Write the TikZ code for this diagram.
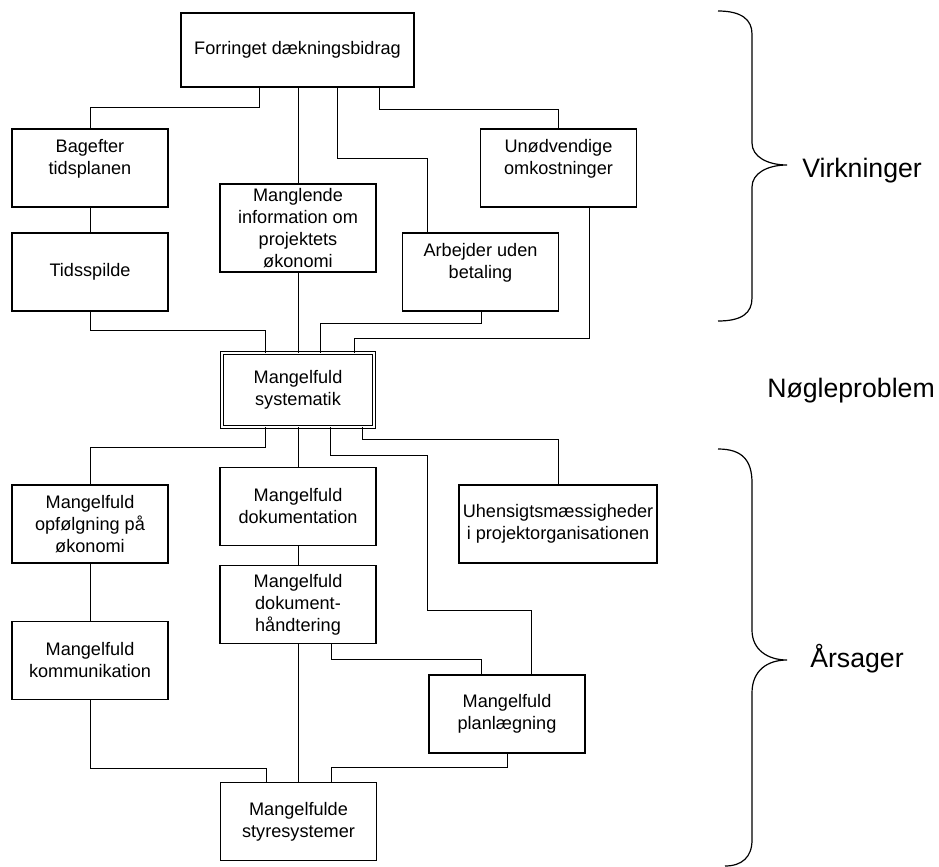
\documentclass[tikz,border=0pt]{standalone}
\usepackage{fontspec}
\setmainfont{Liberation Sans}
\usetikzlibrary{calc}

\begin{document}
\begin{tikzpicture}[x=0.75pt, y=-0.75pt,
  box/.style    = {rectangle, draw, line width=1pt, inner sep=0pt, outer sep=0pt,
                   minimum width=117pt, minimum height=58.5pt, align=center,
                   font=\fontsize{13.6}{16.5}\selectfont},
  keybox/.style = {box, line width=0.75pt, double, double distance=1.85pt,
                   minimum width=113.7pt, minimum height=55.2pt},
  link/.style   = {line width=0.7pt},
  brace/.style  = {line width=0.9pt},
  lbl/.style    = {anchor=base west, inner sep=0pt, font=\fontsize{20}{24}\selectfont}
]
\useasboundingbox (0,0) rectangle (939,867);

\node[box, minimum width=174.75pt, minimum height=55.5pt] (forr) at (297.5,50) {Forringet dækningsbidrag};
\node[box] (bag)  at (90,168)    {Bagefter\\tidsplanen\\\mbox{}};
\node[box] (tids) at (90,272)    {Tidsspilde};
\node[box, minimum height=66pt] (mang) at (298,228) {Manglende\\information om\\projektets\\økonomi};
\node[box] (arb)  at (480.5,272) {Arbejder uden\\betaling\\\mbox{}};
\node[box] (unod) at (558.5,168) {Unødvendige\\omkostninger\\\mbox{}};

\node[keybox] (sys) at (298,390) {Mangelfuld\\systematik};

\node[box] (opf)    at (90,524)    {Mangelfuld\\opfølgning på\\økonomi};
\node[box] (dok)    at (298,506.5) {Mangelfuld\\dokumentation};
\node[box, minimum width=148.5pt] (uhen) at (558,524) {Uhensigtsmæssigheder\\i projektorganisationen};
\node[box] (dhaand) at (298,604.5) {Mangelfuld\\dokument-\\håndtering};
\node[box] (komm)   at (90,660.5)  {Mangelfuld\\kommunikation};
\node[box] (plan)   at (507,714)   {Mangelfuld\\planlægning};
\node[box] (styr)   at (298.5,821.5) {Mangelfulde\\styresystemer};

\draw[link] ($(forr.south)+(-38.5,0)$) -- ++(0,20) -| (bag.north);
\draw[link] (forr.south -| mang.north) -- (mang.north);
\draw[link] ($(forr.south)+(39.5,0)$) -- ++(0,71) -| ($(arb.north)+(-53.5,0)$);
\draw[link] ($(forr.south)+(81.5,0)$) -- ++(0,22) -| (unod.north);
\draw[link] (bag) -- (tids);
\draw[link] (tids.south) -- ++(0,19) -| ($(sys.north)+(-33,0)$);
\draw[link] (mang) -- (sys);
\draw[link] ($(arb.south)+(0.5,0)$) -- ++(0,12) -| ($(sys.north)+(22,0)$);
\draw[link] ($(unod.south)+(30.5,0)$) -- ++(0,131) -| ($(sys.north)+(56,0)$);

\draw[link] ($(sys.south)+(-33,0)$) -- ++(0,21) -| (opf.north);
\draw[link] (sys) -- (dok);
\draw[link] ($(sys.south)+(32,0)$) -- ++(0,29) -| ++(97,155) -| ($(plan.north)+(24,0)$);
\draw[link] ($(sys.south)+(64,0)$) -- ++(0,13) -| (uhen.north);
\draw[link] (opf) -- (komm);
\draw[link] (dok) -- (dhaand);
\draw[link] ($(dhaand.south)+(33,0)$) -- ++(0,16) -| ($(plan.north)+(-26,0)$);
\draw[link] (dhaand.south) -- (dhaand.south |- styr.north);
\draw[link] (komm.south) -- ++(0,69) -| ($(styr.north)+(-32.5,0)$);
\draw[link] (plan.south) -- ++(0,14) -| ($(styr.north)+(32.5,0)$);

\draw[brace] (718,11) .. controls (742,11) and (752,20) .. (752,34) -- (752,143)
  .. controls (752,157) and (768,165) .. (787,165)
  .. controls (768,165) and (752,173) .. (752,187) -- (752,298)
  .. controls (752,313) and (742,321) .. (718,321);
\draw[brace] (718,449) .. controls (742,449) and (752,460) .. (752,483) -- (752,630)
  .. controls (752,650) and (768,660) .. (787,660)
  .. controls (768,660) and (752,670) .. (752,693) -- (752,840)
  .. controls (752,857) and (742,866) .. (725,866);

\node[lbl] (virk)   at (802,177) {Virkninger};
\node[lbl] (noegle) at (767,397) {Nøgleproblem};
\node[lbl] (aars)   at (810,667) {Årsager};
\end{tikzpicture}
\end{document}
